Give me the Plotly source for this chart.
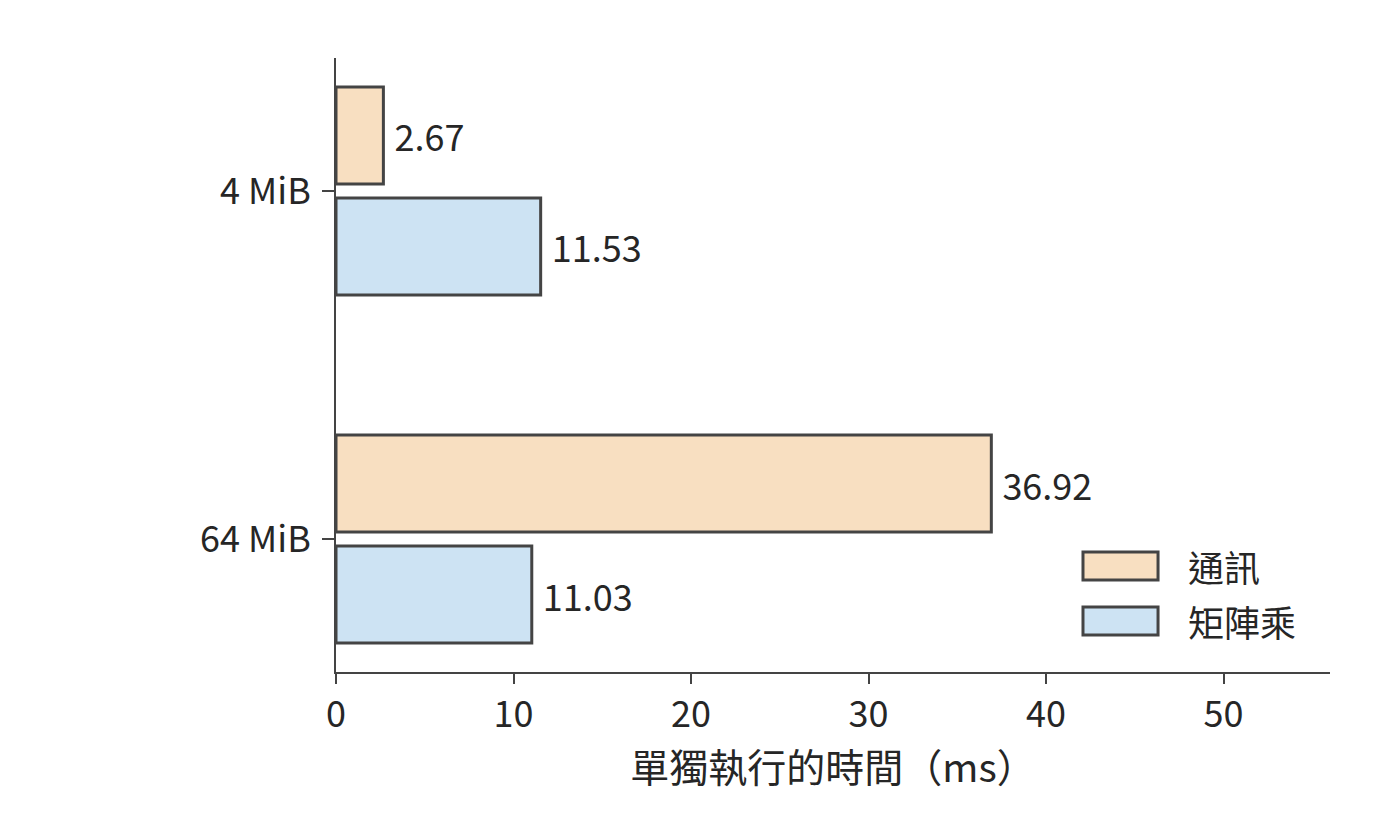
import plotly.graph_objects as go

categories = ["4 MiB", "64 MiB"]
series_names = ["通訊", "矩陣乘"]
comm_values = [2.67, 36.92]
matmul_values = [11.53, 11.03]
x_ticks = [0, 10, 20, 30, 40, 50]

colors = ["#F8DFC1", "#CDE3F3"]
edge = "#444444"
font_family = "Noto Sans CJK TC, Noto Sans CJK SC, sans-serif"
text_color = "#262626"
fs = 36

fig = go.Figure()
for name, vals, col in zip(series_names, [comm_values, matmul_values], colors):
    fig.add_trace(go.Bar(
        y=categories, x=vals, orientation="h", name=name,
        marker=dict(color=col, line=dict(color=edge, width=3)),
        text=["\u00a0" + f"{v:.2f}" for v in vals], textposition="outside",
        textfont=dict(size=fs, color=text_color, family=font_family),
        cliponaxis=False, showlegend=False,
    ))

fig.update_layout(
    width=1392, height=832,
    paper_bgcolor="white", plot_bgcolor="white",
    margin=dict(l=328, r=70, t=50, b=168),
    barmode="group", bargap=0.362, bargroupgap=0.126,
    font=dict(family=font_family, size=fs, color=text_color),
    xaxis=dict(
        range=[0, 56], tickvals=x_ticks, showgrid=False, zeroline=False,
        showline=True, linecolor=edge, linewidth=2,
        ticks="outside", ticklen=10, tickwidth=2, tickcolor=edge,
        tickfont=dict(size=fs), ticklabelstandoff=0,
        title=dict(text="單獨執行的時間（ms）", font=dict(size=39), standoff=2),
    ),
    yaxis=dict(
        type="category", categoryorder="array", categoryarray=categories,
        range=[1.382, -0.382], showgrid=False, zeroline=False,
        showline=True, linecolor=edge, linewidth=2,
        ticks="outside", ticklen=12, tickwidth=2, tickcolor=edge,
        tickfont=dict(size=fs), ticklabelstandoff=4,
    ),
)

# legend drawn as patches + labels (paper coordinates)
legend_rows = [(0.1498, 0.1954, 0.1726), (0.0603, 0.1059, 0.0831)]
for (y0, y1, yc), name, col in zip(legend_rows, series_names, colors):
    fig.add_shape(type="rect", xref="paper", yref="paper",
                  x0=0.7515, x1=0.827, y0=y0, y1=y1,
                  fillcolor=col, line=dict(color=edge, width=3))
    fig.add_annotation(xref="paper", yref="paper", x=0.855, y=yc,
                       text=name, showarrow=False, xanchor="left", yanchor="middle",
                       font=dict(size=fs, color=text_color, family=font_family))

fig.write_html("out.html")
